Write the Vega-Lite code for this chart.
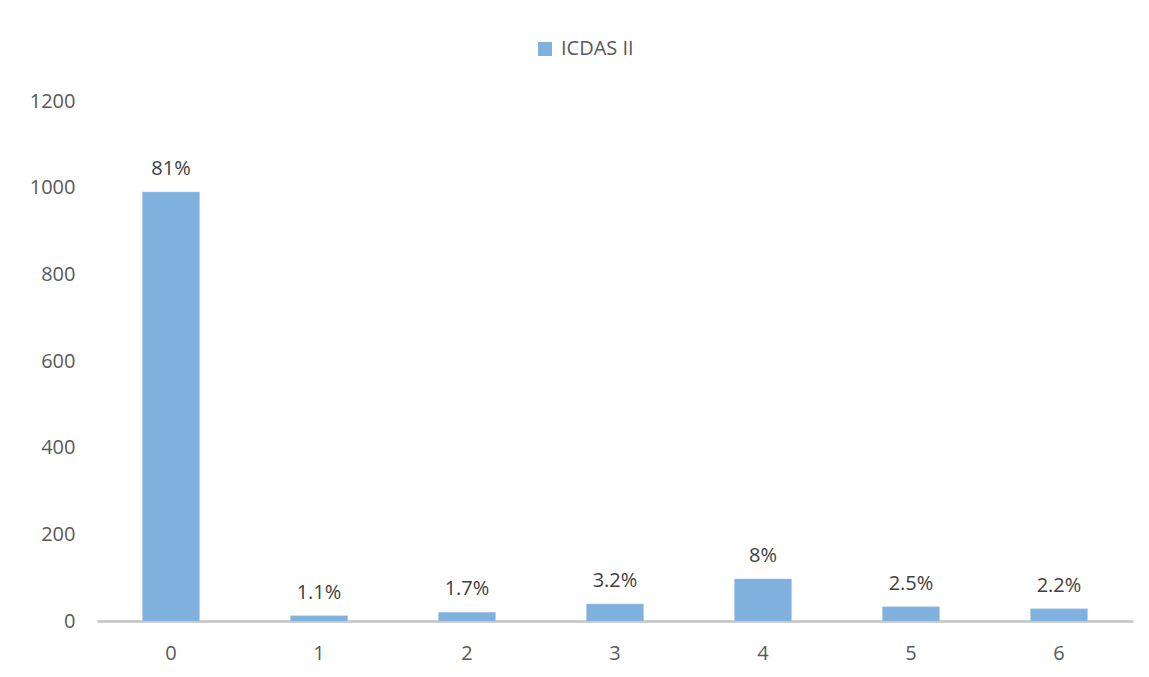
{
  "$schema": "https://vega.github.io/schema/vega-lite/v6.json",
  "autosize": "none",
  "width": 1036,
  "height": 520,
  "padding": {"left": 97, "top": 101, "right": 16, "bottom": 56},
  "background": "white",
  "data": {
    "values": [
      {"score": "0", "teeth": 990, "share": "81%", "series": "ICDAS II"},
      {"score": "1", "teeth": 12, "share": "1.1%", "series": "ICDAS II"},
      {"score": "2", "teeth": 20, "share": "1.7%", "series": "ICDAS II"},
      {"score": "3", "teeth": 39, "share": "3.2%", "series": "ICDAS II"},
      {"score": "4", "teeth": 97, "share": "8%", "series": "ICDAS II"},
      {"score": "5", "teeth": 33, "share": "2.5%", "series": "ICDAS II"},
      {"score": "6", "teeth": 28, "share": "2.2%", "series": "ICDAS II"}
    ]
  },
  "encoding": {
    "x": {
      "field": "score",
      "type": "ordinal",
      "scale": {"paddingInner": 0.615, "paddingOuter": 0.3075},
      "axis": {
        "title": null,
        "labelAngle": 0,
        "ticks": false,
        "labelPadding": 22,
        "domainColor": "#c3c3c3",
        "domainWidth": 2.5,
        "grid": false
      }
    },
    "y": {
      "field": "teeth",
      "type": "quantitative",
      "scale": {"domain": [0, 1200], "nice": false},
      "axis": {
        "title": null,
        "values": [0, 200, 400, 600, 800, 1000, 1200],
        "format": "d",
        "ticks": false,
        "domain": false,
        "grid": false,
        "labelPadding": 22
      }
    }
  },
  "layer": [
    {
      "mark": {"type": "bar", "stroke": "#a9c9ea", "strokeWidth": 0.5},
      "encoding": {
        "color": {
          "field": "series",
          "type": "nominal",
          "scale": {"range": ["#7fb0de"]},
          "legend": {
            "title": null,
            "orient": "none",
            "legendX": 438,
            "legendY": -62,
            "symbolType": "square",
            "symbolSize": 196,
            "symbolStrokeWidth": 0,
            "labelOffset": 6
          }
        }
      }
    },
    {
      "mark": {"type": "text", "baseline": "alphabetic", "dy": -17, "fontSize": 20, "color": "#404040"},
      "encoding": {"text": {"field": "share"}}
    }
  ],
  "config": {
    "font": "Open Sans",
    "view": {"stroke": null},
    "axis": {"labelFont": "Open Sans", "labelFontSize": 20, "labelColor": "#595959"},
    "legend": {"labelFont": "Open Sans", "labelFontSize": 20, "labelColor": "#595959"}
  }
}
